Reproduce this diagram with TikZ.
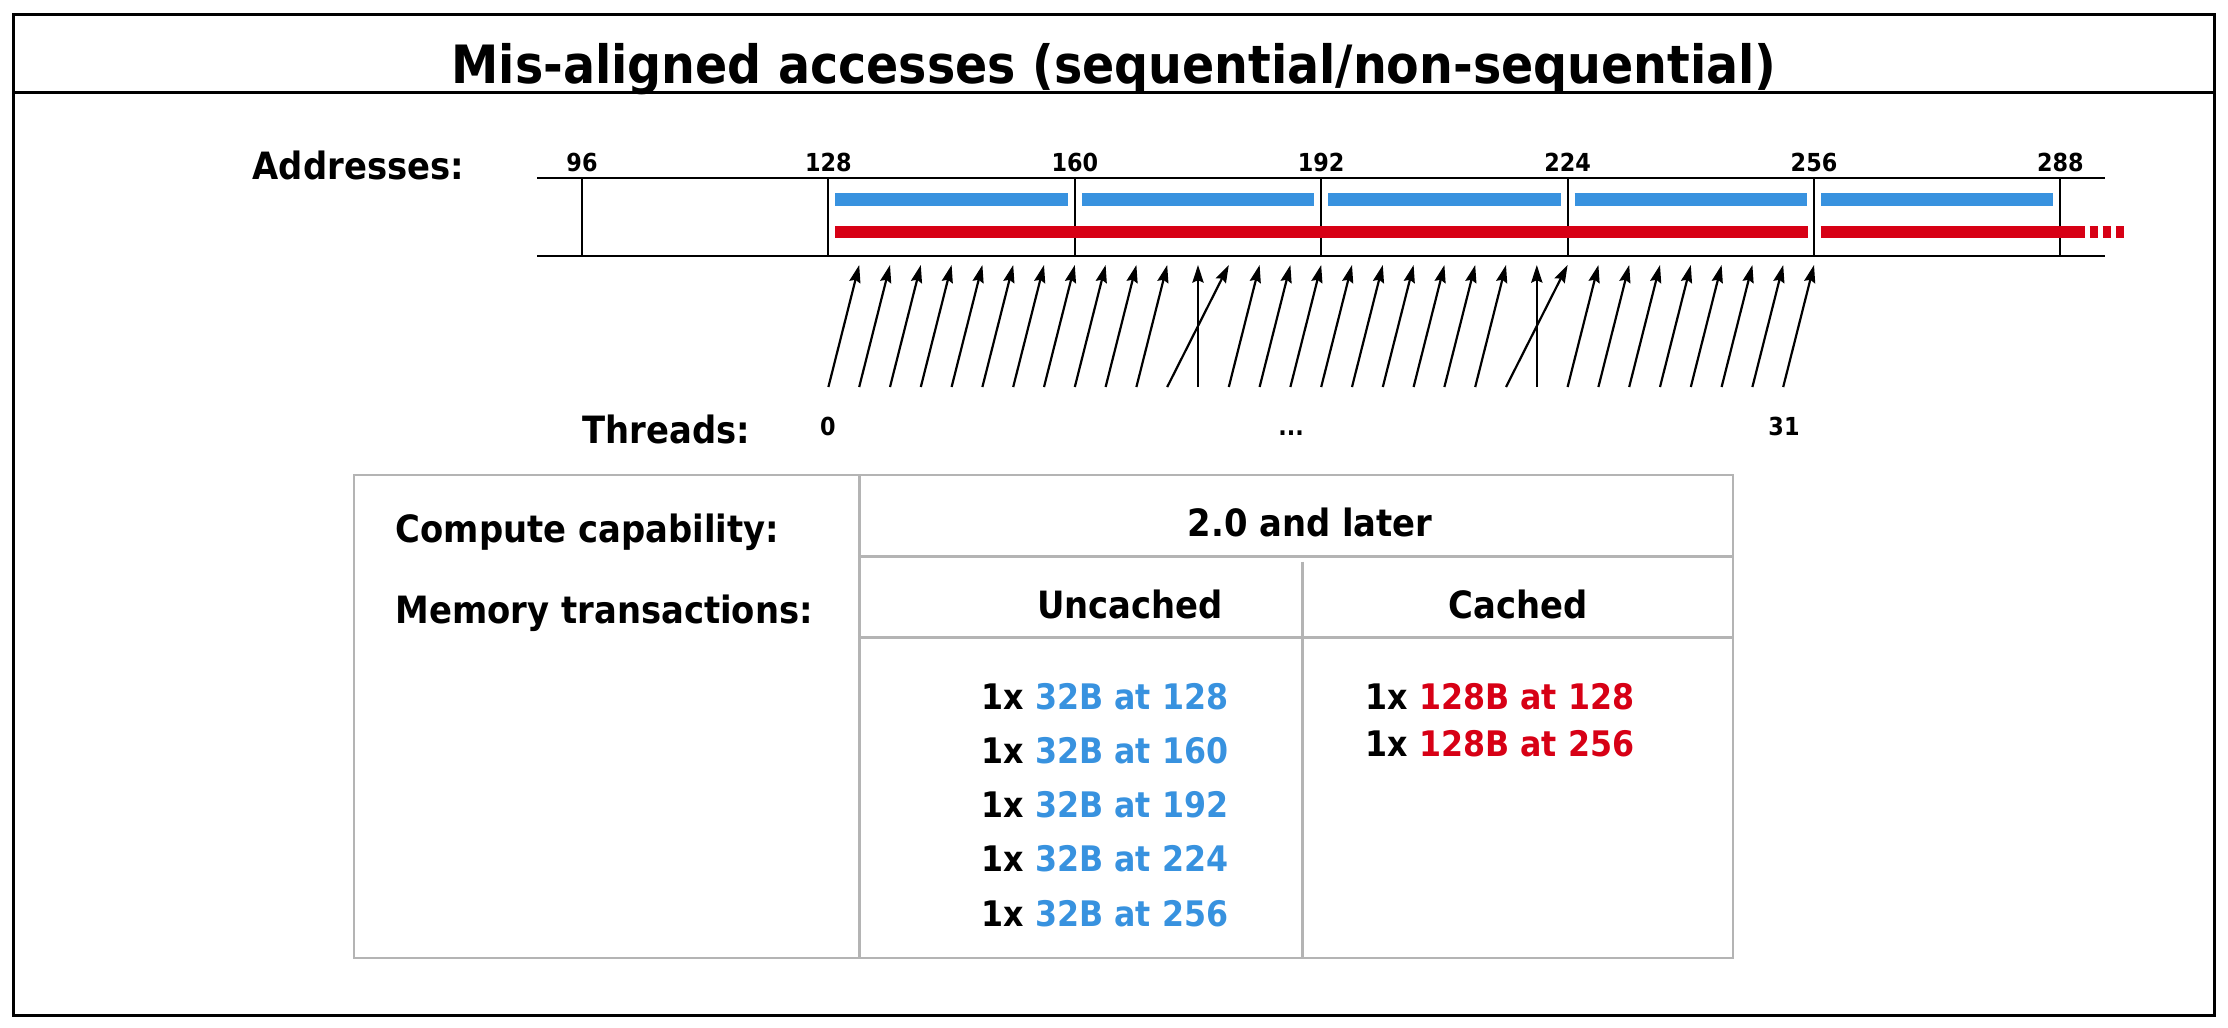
\documentclass[tikz,border=0pt]{standalone}
\usepackage{fontspec}
\setmainfont{DejaVu Sans Condensed}
\usetikzlibrary{arrows.meta}

\definecolor{segblue}{RGB}{56,146,223}
\definecolor{linered}{RGB}{215,0,21}
\definecolor{gridgray}{RGB}{180,180,180}

\tikzset{
  title/.style={font=\fontsize{13.2}{15}\selectfont\bfseries, inner sep=0pt},
  lbl/.style={font=\fontsize{9.4}{11}\selectfont\bfseries, inner sep=0pt},
  entry/.style={font=\fontsize{8.8}{10}\selectfont\bfseries, inner sep=0pt},
  num/.style={font=\fontsize{6.2}{7}\selectfont\bfseries, inner sep=0pt},
  thr/.style={line width=0.55pt, -{Stealth[length=4.4pt,width=2.8pt,inset=0.6pt]}},
  seg/.style={line width=3.2pt, line cap=butt},
  cell/.style={draw=gridgray, line width=0.55pt}
}

\begin{document}
\begin{tikzpicture}[x=0.25pt,y=-0.25pt]
\useasboundingbox (0,0) rectangle (2228,1028);

% ===== Frame and title =====
\draw[line width=0.75pt] (13.5,14.5) rectangle (2214.5,1015.5);
\draw[line width=0.75pt] (13.5,92.5) -- (2214.5,92.5);
\node[title, anchor=base] (head) at (1114,83) {Mis-aligned accesses (sequential/non-sequential)};

% ===== Address line =====
\node[lbl, anchor=base west] (addr) at (252,179) {Addresses:};
\draw[line width=0.65pt] (537,178) -- (2105,178);
\draw[line width=0.65pt] (537,256) -- (2105,256);
\foreach \a in {96,128,...,288} {
  \draw[line width=0.5pt] ({582+(\a-96)*7.7},178) -- ({582+(\a-96)*7.7},256);
  \node[num, anchor=base] (n\a) at ({582+(\a-96)*7.7},171) {\a};
}

% 32B segments
\foreach \a in {128,160,...,256}
  \draw[seg, segblue] ({582+(\a-96)*7.7+7},199.5) -- ({582+(\a+32-96)*7.7-7},199.5);

% 128B segments
\draw[seg, linered] (835,232) -- (1807.5,232);
\draw[seg, linered] (1820.5,232) -- (2085,232);
\foreach \d in {0,1,2}
  \draw[seg, linered] ({2089.5+13.2*\d},232) -- ({2098+13.2*\d},232);

% ===== Threads =====
\foreach \i in {0,...,31} {
  \coordinate (t\i) at ({828.4+30.8*\i},387);
  \coordinate (h\i) at ({859.2+30.8*\i},265);
}
\foreach \i in {0,...,31} {
  \pgfmathtruncatemacro{\j}{\i==11 ? 12 : (\i==12 ? 11 : (\i==22 ? 23 : (\i==23 ? 22 : \i)))}
  \draw[thr] (t\i) -- (h\j);
}
\node[lbl, anchor=base west] (threads) at (582,443) {Threads:};
\node[num, anchor=base] (first) at (828,435.5) {0};
\node[num, anchor=base] (dots) at (1291,435.5) {...};
\node[num, anchor=base] (last) at (1784,435.5) {31};

% ===== Table =====
\draw[cell] (354,475) rectangle (1733,958);
\draw[cell] (859.5,475) -- (859.5,958);
\draw[cell] (859.5,556.5) -- (1733,556.5);
\draw[cell] (859.5,637.5) -- (1733,637.5);
\draw[cell] (1302.5,561.5) -- (1302.5,958);

\node[lbl, anchor=base west] (cc) at (395,542) {Compute capability:};
\node[lbl, anchor=base west] (mt) at (395,623) {Memory transactions:};
\node[lbl, anchor=base] (ver) at (1310,536) {2.0 and later};
\node[lbl, anchor=base] (unc) at (1130,618) {Uncached};
\node[lbl, anchor=base] (cac) at (1518,618) {Cached};

\foreach \a [count=\k from 0] in {128,160,192,224,256}
  \node[entry, anchor=base west] (u\k) at (981,{709+54.25*\k}) {1x \textcolor{segblue}{32B at \a}};
\foreach \a [count=\k from 0] in {128,256}
  \node[entry, anchor=base west] (c\k) at (1365,{709+47*\k}) {1x \textcolor{linered}{128B at \a}};

\end{tikzpicture}
\end{document}
